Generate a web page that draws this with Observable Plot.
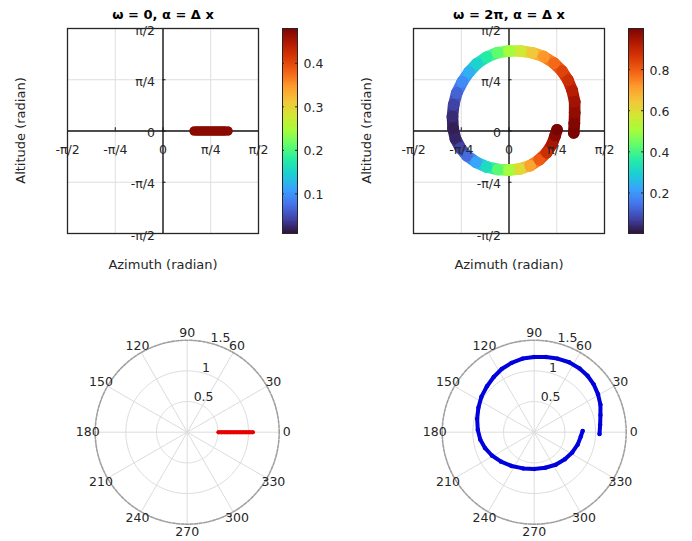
<!DOCTYPE html>
<html><head><meta charset="utf-8">
<script src="https://cdn.jsdelivr.net/npm/d3@7"></script>
<script src="https://cdn.jsdelivr.net/npm/@observablehq/plot@0.6"></script>
<style>
body{margin:0;background:#fff;}
#fig{position:relative;width:692px;height:541px;overflow:hidden;font-family:"DejaVu Sans",sans-serif;}
#fig svg{position:absolute;overflow:visible;}
</style></head><body><div id="fig"></div>
<script>
const PI = Math.PI;
// ---- text / ticks ----
const titles = ["ω = 0, α = Δ x", "ω = 2π, α = Δ x"];
const xLabel = "Azimuth (radian)";
const yLabel = "Altitude (radian)";
const angTicks = [-PI/2, -PI/4, 0, PI/4, PI/2];
const angTickLabels = ["-π/2", "-π/4", "0", "π/4", "π/2"];
const cbTicksA = [0.1, 0.2, 0.3, 0.4];
const cbTicksB = [0.2, 0.4, 0.6, 0.8];
const cbDomainA = [0.009, 0.48];
const cbDomainB = [0.003, 1.0];
const polarRings = [0.5, 1, 1.5];
const polarAngles = [0, 30, 60, 90, 120, 150, 180, 210, 240, 270, 300, 330];

// ---- series: panel A (ω = 0) ----
const azA  = [0.51, 0.56, 0.61, 0.66, 0.71, 0.76, 0.81, 0.86, 0.91, 0.96, 1.01, 1.07];
const altA = [0, 0, 0, 0, 0, 0, 0, 0, 0, 0, 0, 0];
const cA   = [0.47, 0.47, 0.47, 0.47, 0.47, 0.47, 0.47, 0.47, 0.47, 0.47, 0.47, 0.47];

// ---- series: panel B (ω = 2π) ----
const azB  = [1.065, 1.075, 1.08, 1.08, 1.04, 0.97, 0.87, 0.74, 0.57, 0.38, 0.19, 0.0, -0.19, -0.37, -0.53, -0.66, -0.77, -0.86, -0.91, -0.93, -0.92, -0.88, -0.80, -0.69, -0.54, -0.37, -0.18, 0.0, 0.18, 0.35, 0.50, 0.62, 0.71, 0.76, 0.79];
const altB = [-0.03, 0.12, 0.28, 0.45, 0.62, 0.78, 0.92, 1.04, 1.14, 1.20, 1.225, 1.225, 1.20, 1.13, 1.03, 0.90, 0.75, 0.58, 0.40, 0.22, 0.04, -0.12, -0.26, -0.38, -0.48, -0.55, -0.59, -0.60, -0.58, -0.53, -0.44, -0.33, -0.20, -0.07, 0.02];
const cB   = [1.0, 0.99, 0.97, 0.95, 0.92, 0.88, 0.84, 0.78, 0.72, 0.64, 0.57, 0.50, 0.43, 0.36, 0.30, 0.24, 0.18, 0.12, 0.07, 0.04, 0.02, 0.03, 0.07, 0.13, 0.22, 0.32, 0.42, 0.50, 0.60, 0.70, 0.80, 0.88, 0.94, 0.98, 1.0];

// MATLAB-like turbo colormap stops
const turboColors = ["#30123b","#4145ab","#4675ed","#39a2fc","#1bcfd4","#24eca6","#61fc6c","#a4fc3b","#d1e834","#f3c63a","#fe9b2d","#f36315","#d93806","#b11901","#7a0403"];
const turbo = d3.piecewise(d3.interpolateRgb, turboColors);

const INK = "#262626";
const fig = document.getElementById("fig");
function place(svg, left, top) {
  svg.style.left = left + "px";
  svg.style.top = top + "px";
  fig.appendChild(svg);
  return svg;
}

function scatterPanel(az, alt, c, cdom, title, dotR) {
  const pts = az.map((x, i) => ({x, y: alt[i], c: c[i]}));
  const segs = pts.slice(1).map((p, i) => ({x1: pts[i].x, y1: pts[i].y, x2: p.x, y2: p.y, c: (pts[i].c + p.c) / 2}));
  return Plot.plot({
    width: 346, height: 290,
    marginLeft: 67, marginRight: 88, marginTop: 28, marginBottom: 57,
    x: {domain: [-PI/2, PI/2], axis: null},
    y: {domain: [-PI/2, PI/2], axis: null},
    color: {type: "linear", domain: cdom, interpolate: turbo},
    style: {fontFamily: "DejaVu Sans", fontSize: "12.5px", color: INK, background: "transparent"},
    marks: [
      Plot.ruleX([-PI/4, PI/4], {stroke: "#dedede"}),
      Plot.ruleY([-PI/4, PI/4], {stroke: "#dedede"}),
      Plot.ruleX([0], {stroke: "#111", strokeWidth: 1.4}),
      Plot.ruleY([0], {stroke: "#111", strokeWidth: 1.4}),
      Plot.ruleX(angTicks, {y1: 0, y2: 0.05, stroke: "#111"}),
      Plot.ruleY(angTicks, {x1: 0, x2: 0.05, stroke: "#111"}),
      Plot.link(segs, {x1: "x1", y1: "y1", x2: "x2", y2: "y2", stroke: "c", strokeWidth: 2 * dotR, strokeLinecap: "round"}),
      Plot.dot(pts, {x: "x", y: "y", r: dotR, fill: "c"}),
      Plot.frame({stroke: INK, strokeWidth: 1.3}),
      Plot.text(angTicks, {x: d => d, y: 0, text: (d, i) => angTickLabels[i], dy: 19, fill: INK, fontSize: 12.5}),
      Plot.text(angTicks, {x: 0, y: d => d, text: (d, i) => angTickLabels[i], dx: -8, dy: 2, textAnchor: "end", fill: INK, fontSize: 12.5}),
      Plot.text([title], {frameAnchor: "top", dy: -19, fontWeight: "bold", fontSize: 13, fill: "#000"}),
      Plot.text([xLabel], {frameAnchor: "bottom", dy: 35, fontSize: 13, fill: INK}),
      Plot.text([yLabel], {frameAnchor: "middle", rotate: -90, fontSize: 13, fill: INK})
    ]
  });
}

// pin the rotated y label: centred 47px left of the frame, at the frame's mid height
function fixYLabel(svg) {
  const t = [...svg.querySelectorAll("text")].find(e => e.textContent.trim() === yLabel);
  if (!t) return;
  if (t.parentNode && t.parentNode.removeAttribute) t.parentNode.removeAttribute("transform");
  t.removeAttribute("dx");
  t.removeAttribute("x");
  t.removeAttribute("y");
  t.setAttribute("text-anchor", "middle");
  t.setAttribute("dy", "0.35em");
  t.setAttribute("transform", `translate(20,${(28 + 233) / 2}) rotate(-90)`);
}

function colorbar(cdom, ticks) {
  const n = 120, span = cdom[1] - cdom[0];
  const ramp = d3.range(n).map(i => ({
    y1: cdom[0] + span * i / n,
    y2: Math.min(cdom[1], cdom[0] + span * (i + 1.6) / n),
    v: cdom[0] + span * (i + 0.5) / n
  }));
  return Plot.plot({
    width: 62, height: 290,
    marginLeft: 0, marginRight: 47, marginTop: 28, marginBottom: 57,
    x: {domain: [0, 1], axis: null},
    y: {domain: cdom, axis: null},
    color: {type: "linear", domain: cdom, interpolate: turbo},
    style: {fontFamily: "DejaVu Sans", fontSize: "12.5px", color: INK, background: "transparent"},
    marks: [
      Plot.rect(ramp, {x1: 0, x2: 1, y1: "y1", y2: "y2", fill: "v"}),
      Plot.ruleY(ticks, {x1: 0, x2: 0.13, stroke: INK}),
      Plot.ruleY(ticks, {x1: 0.87, x2: 1, stroke: INK}),
      Plot.frame({stroke: INK, strokeWidth: 1}),
      Plot.text(ticks, {x: 1, y: d => d, text: d => d.toFixed(1), dx: 6, dy: 1, textAnchor: "start", fill: INK, fontSize: 12.5})
    ]
  });
}

function polarPanel(az, alt, color, lineW, dotR) {
  const pts = az.map((x, i) => ({x, y: alt[i]}));
  const rad = a => a * PI / 180;
  const circ = r => d3.range(0, 362, 2).map(a => ({r, x: r * Math.cos(rad(a)), y: r * Math.sin(rad(a))}));
  const inner = polarRings.filter(r => r < 1.5).flatMap(circ);
  const outer = circ(1.5);
  const rLab = 1.622, rAng = rad(74);
  return Plot.plot({
    width: 346, height: 251,
    marginLeft: 94.7, marginRight: 67.3, marginTop: 49.7, marginBottom: 17.3,
    x: {domain: [-1.5, 1.5], axis: null},
    y: {domain: [-1.5, 1.5], axis: null},
    style: {fontFamily: "DejaVu Sans", fontSize: "12.5px", color: INK, background: "transparent"},
    marks: [
      Plot.line(inner, {x: "x", y: "y", z: "r", stroke: "#dcdcdc", strokeWidth: 1}),
      Plot.link(polarAngles, {x1: 0, y1: 0, x2: a => 1.5 * Math.cos(rad(a)), y2: a => 1.5 * Math.sin(rad(a)), stroke: "#dcdcdc", strokeWidth: 1}),
      Plot.line(outer, {x: "x", y: "y", stroke: "#a0a0a0", strokeWidth: 1.6, strokeDasharray: "3,1.5"}),
      Plot.line(pts, {x: "x", y: "y", stroke: color, strokeWidth: lineW}),
      Plot.dot(pts, {x: "x", y: "y", r: dotR, fill: color}),
      Plot.text(polarAngles, {x: a => rLab * Math.cos(rad(a)), y: a => rLab * Math.sin(rad(a)), text: a => String(a), fill: INK, fontSize: 12.5}),
      Plot.text(polarRings, {x: r => r * Math.cos(rAng), y: r => r * Math.sin(rAng), text: r => String(r), textAnchor: "start", lineAnchor: "bottom", dx: -2, dy: -1.5, fill: INK, fontSize: 12.5})
    ]
  });
}

fixYLabel(place(scatterPanel(azA, altA, cA, cbDomainA, titles[0], 4.5), 0, 0));
place(colorbar(cbDomainA, cbTicksA), 282, 0);
fixYLabel(place(scatterPanel(azB, altB, cB, cbDomainB, titles[1], 5.8), 346, 0));
place(colorbar(cbDomainB, cbTicksB), 628, 0);
place(polarPanel(azA, altA, "#e80000", 4, 2), 0, 290);
place(polarPanel(azB, altB, "#0000dc", 4, 2.2), 346.6, 290);
</script>
</body></html>
